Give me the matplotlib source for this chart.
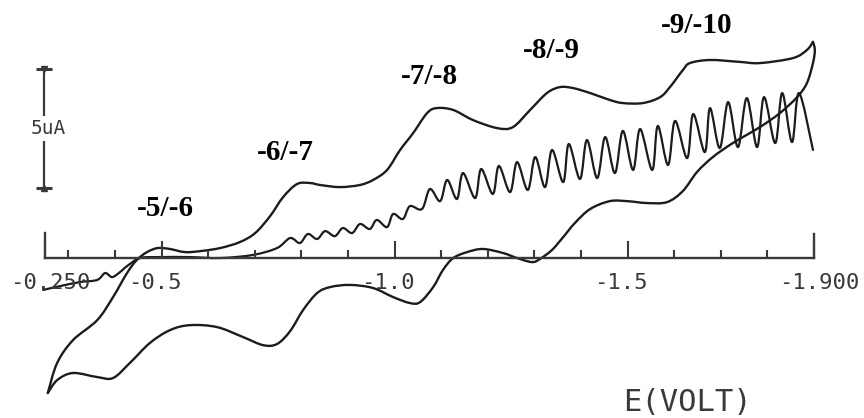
import matplotlib

matplotlib.use("Agg")

import matplotlib.pyplot as plt
from matplotlib.patches import PathPatch
from matplotlib.path import Path
from matplotlib.ticker import FixedLocator, FixedFormatter
from matplotlib.transforms import ScaledTranslation

# cyclic voltammogram, forward (cathodic) sweep: E in V, i in uA
fwd_e = [-0.256, -0.276, -0.310, -0.362, -0.396, -0.426, -0.447, -0.469, -0.492, -0.518,
         -0.550, -0.583, -0.626, -0.668, -0.701, -0.733, -0.761, -0.791, -0.819, -0.840,
         -0.883, -0.926, -0.954, -0.984, -1.012, -1.040, -1.070, -1.091, -1.126, -1.168,
         -1.220, -1.254, -1.291, -1.327, -1.355, -1.383, -1.420, -1.462, -1.490, -1.533,
         -1.570, -1.591, -1.619, -1.634, -1.677, -1.741, -1.784, -1.855, -1.885, -1.898]
fwd_i = [-5.67, -4.41, -3.45, -2.61, -1.64, -0.63, -0.08, 0.25, 0.42, 0.38,
         0.25, 0.29, 0.42, 0.67, 1.05, 1.76, 2.56, 3.11, 3.15, 3.07,
         2.98, 3.07, 3.28, 3.70, 4.54, 5.25, 6.09, 6.30, 6.22, 5.80,
         5.46, 5.50, 6.22, 6.93, 7.18, 7.14, 6.93, 6.64, 6.51, 6.51,
         6.76, 7.18, 7.90, 8.19, 8.32, 8.24, 8.19, 8.40, 8.74, 9.08]

# reverse (anodic) sweep back to the start potential
rev_e = [-1.898, -1.902, -1.898, -1.885, -1.864, -1.827, -1.784, -1.726, -1.683, -1.649, -1.619,
         -1.585, -1.542, -1.499, -1.462, -1.420, -1.387, -1.362, -1.338, -1.312,
         -1.295, -1.263, -1.233, -1.190, -1.156, -1.126, -1.104, -1.083, -1.055, -1.033,
         -0.997, -0.954, -0.904, -0.862, -0.834, -0.804, -0.776, -0.748, -0.718, -0.675,
         -0.619, -0.561, -0.518, -0.475, -0.432, -0.396, -0.362, -0.310, -0.276, -0.256]
rev_i = [9.08, 8.74, 8.19, 7.35, 6.76, 6.09, 5.50, 4.83, 4.24, 3.61, 2.82,
         2.35, 2.31, 2.39, 2.39, 2.06, 1.47, 0.88, 0.34, -0.04,
         -0.17, 0.00, 0.21, 0.38, 0.25, 0.00, -0.50, -1.22, -1.85, -1.89,
         -1.64, -1.26, -1.13, -1.22, -1.47, -2.18, -3.07, -3.61, -3.66, -3.32,
         -2.90, -2.82, -3.03, -3.57, -4.41, -5.04, -5.00, -4.83, -5.13, -5.67]

# DC polarogram with drop oscillations (peaks / troughs of each drop)
dme_e = [-0.246, -0.282, -0.325, -0.362, -0.379, -0.394, -0.411, -0.426, -0.454, -0.497,
         -0.561, -0.626, -0.696, -0.748,
         -0.776, -0.797, -0.814, -0.834, -0.851, -0.872, -0.889, -0.909, -0.926, -0.947,
         -0.962, -0.984, -0.997, -1.018, -1.033, -1.059, -1.076, -1.098, -1.113, -1.134,
         -1.147, -1.173, -1.186, -1.211, -1.224, -1.248, -1.263, -1.286, -1.302, -1.323,
         -1.338, -1.362, -1.374, -1.398, -1.413, -1.435, -1.452, -1.473, -1.490, -1.512,
         -1.527, -1.553, -1.565, -1.587, -1.602, -1.628, -1.641, -1.666, -1.677, -1.698,
         -1.716, -1.737, -1.756, -1.778, -1.793, -1.817, -1.832, -1.853, -1.868, -1.898]
dme_i = [-1.34, -1.18, -1.01, -0.92, -0.63, -0.80, -0.59, -0.34, 0.00, 0.04,
         0.04, 0.00, 0.13, 0.42,
         0.84, 0.63, 1.01, 0.80, 1.13, 0.92, 1.26, 1.05, 1.43, 1.22,
         1.60, 1.30, 1.85, 1.64, 2.18, 2.06, 2.90, 2.39, 3.28, 2.48,
         3.57, 2.52, 3.74, 2.69, 3.87, 2.77, 4.03, 2.86, 4.24, 2.98,
         4.54, 3.19, 4.79, 3.32, 4.96, 3.36, 5.08, 3.57, 5.34, 3.70,
         5.42, 3.70, 5.55, 3.91, 5.76, 4.20, 6.05, 4.45, 6.30, 4.62,
         6.55, 4.66, 6.72, 4.66, 6.76, 4.83, 6.93, 4.87, 6.93, 4.54]

# redox couple labels and where they sit (E, i)
couple_labels = ["-5/-6", "-6/-7", "-7/-8", "-8/-9", "-9/-10"]
couple_e = [-0.508, -0.765, -1.076, -1.336, -1.649]
couple_i = [2.10, 4.45, 7.61, 8.70, 9.75]

major_ticks = [-0.25, -0.5, -1.0, -1.5, -1.9]
major_labels = ["-0.250", "-0.5", "-1.0", "-1.5", "-1.900"]
label_shift_px = [5, -7, -7, -7, 5]
minor_ticks = [-0.3, -0.4, -0.6, -0.7, -0.8, -0.9, -1.1, -1.2, -1.3, -1.4, -1.6, -1.7, -1.8]

scale_ua = 5.0
scale_base = 2.94
scale_e = -0.248

INK = "#1c1c1c"
PLOTTER = "#3a3a3a"
MONO = "DejaVu Sans Mono"


def smooth_path(xs, ys):
    # pen-like trace: Catmull-Rom through the read points, as cubic Beziers
    pts = list(zip(xs, ys))
    n = len(pts)
    verts = [pts[0]]
    codes = [Path.MOVETO]
    for k in range(n - 1):
        p0 = pts[max(k - 1, 0)]
        p1 = pts[k]
        p2 = pts[k + 1]
        p3 = pts[min(k + 2, n - 1)]
        c1 = (p1[0] + (p2[0] - p0[0]) / 6, p1[1] + (p2[1] - p0[1]) / 6)
        c2 = (p2[0] - (p3[0] - p1[0]) / 6, p2[1] - (p3[1] - p1[1]) / 6)
        verts += [c1, c2, p2]
        codes += [Path.CURVE4] * 3
    return Path(verts, codes)


def trace(ax, xs, ys, lw):
    ax.add_patch(PathPatch(smooth_path(xs, ys), fill=False, ec=INK, lw=lw,
                           joinstyle="round", capstyle="round"))


fig = plt.figure(figsize=(8.64, 4.18), dpi=100, facecolor="white")
ax = fig.add_axes([0, 0, 1, 1])
ax.set_xlim(-0.1534, -2.0075)
ax.set_ylim(-6.72, 10.84)
ax.patch.set_visible(False)

trace(ax, fwd_e, fwd_i, 1.7)
trace(ax, rev_e, rev_i, 1.7)
trace(ax, dme_e, dme_i, 1.6)

# potential axis drawn like the plotter: baseline with end posts
ax.spines["top"].set_visible(False)
ax.spines["bottom"].set_position(("data", 0))
ax.spines["bottom"].set_bounds(-1.9, -0.25)
ax.spines["left"].set_position(("data", -0.25))
ax.spines["left"].set_bounds(0, 1.05)
ax.spines["right"].set_position(("data", -1.9))
ax.spines["right"].set_bounds(0, 1.0)
for side in ("bottom", "left", "right"):
    ax.spines[side].set_color(PLOTTER)
    ax.spines[side].set_linewidth(1.7)
ax.yaxis.set_ticks([])

ax.xaxis.set_major_locator(FixedLocator(major_ticks))
ax.xaxis.set_major_formatter(FixedFormatter(major_labels))
ax.xaxis.set_minor_locator(FixedLocator(minor_ticks))
ax.tick_params(axis="x", which="major", direction="in", length=12, width=1.5,
               color=PLOTTER, labelcolor=PLOTTER, labelsize=16, pad=11)
ax.tick_params(axis="x", which="minor", direction="in", length=5.5, width=1.5, color=PLOTTER)
for lab, dx in zip(ax.get_xticklabels(), label_shift_px):
    lab.set_fontfamily(MONO)
    lab.set_transform(lab.get_transform() + ScaledTranslation(dx / 100, 0, fig.dpi_scale_trans))

# 5 uA scale bar
ax.plot([scale_e, scale_e], [scale_base, scale_base + scale_ua], color=PLOTTER, lw=1.6)
ax.plot([scale_e, scale_e], [scale_base, scale_base + scale_ua], ls="none",
        marker="_", ms=12, mew=2.2, color=PLOTTER)
ax.plot([scale_e], [scale_base + scale_ua], marker="v", ms=5, color=PLOTTER, ls="none")
ax.plot([scale_e], [scale_base], marker="^", ms=5, color=PLOTTER, ls="none")
ax.text(scale_e - 0.008, scale_base + scale_ua / 2, "5uA", family=MONO, fontsize=14,
        color=PLOTTER, ha="center", va="center",
        bbox=dict(boxstyle="square,pad=0.15", fc="white", ec="none"))

for lab, e, i in zip(couple_labels, couple_e, couple_i):
    ax.text(e, i, lab, family="Liberation Serif", fontweight="bold", fontsize=21,
            color="black", ha="center", va="center")

ax.text(0.796, 0.036, "E(VOLT)", transform=ax.transAxes, family=MONO, fontsize=22,
        color=PLOTTER, ha="center", va="center")

fig.savefig("out.png", dpi=100, facecolor="white")
